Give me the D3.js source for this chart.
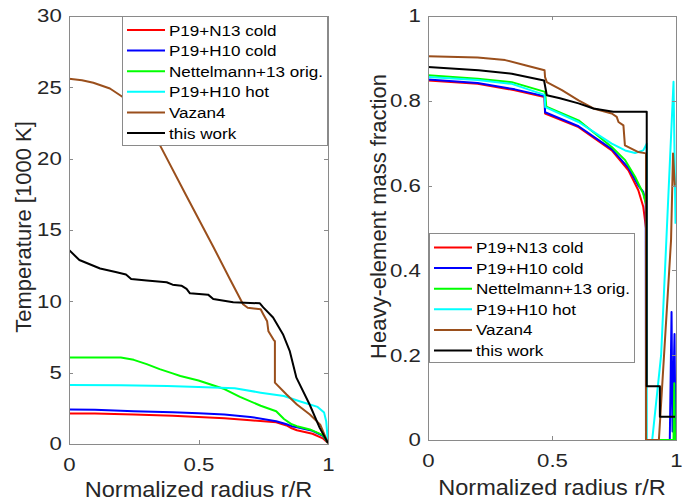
<!DOCTYPE html>
<html>
<head>
<meta charset="utf-8">
<script src="https://cdn.jsdelivr.net/npm/d3@7"></script>
<style>
  body { margin: 0; background: #fff; }
  svg { display: block; font-family: 'Liberation Sans', Arial, Helvetica, sans-serif; }
</style>
</head>
<body>
<svg id="chart" width="690" height="502"></svg>
<script>
const seriesNames = ['P19+N13 cold', 'P19+H10 cold', 'Nettelmann+13 orig.', 'P19+H10 hot', 'Vazan4', 'this work']
const seriesColors = ['#ff0000', '#0000ff', '#00ff00', '#00ffff', '#9a4f1c', '#000000']

// left panel: temperature [1000 K] against r/R, [r, T]
const tempN13Cold = [[0,2.14],[0.1,2.13],[0.25,2.07],[0.4,1.98],[0.5,1.9],[0.6,1.8],[0.7,1.66],[0.8,1.53],[0.84,1.3],[0.86,1.1],[0.88,0.96],[0.94,0.72],[0.98,0.4],[1,0.07]]
const tempH10Cold = [[0,2.42],[0.1,2.4],[0.25,2.3],[0.4,2.22],[0.5,2.15],[0.6,2.06],[0.7,1.9],[0.8,1.6],[0.84,1.38],[0.86,1.25],[0.88,1.17],[0.94,0.92],[0.98,0.58],[1,0.07]]
const tempN13Orig = [[0,6.06],[0.2,6.06],[0.25,5.9],[0.3,5.6],[0.35,5.25],[0.4,4.95],[0.43,4.77],[0.5,4.45],[0.55,4.15],[0.6,3.85],[0.66,3.3],[0.74,2.68],[0.8,2.3],[0.83,1.75],[0.86,1.38],[0.88,1.25],[0.93,1.02],[0.98,0.62],[1,0.07]]
const tempH10Hot = [[0,4.13],[0.2,4.12],[0.38,4.06],[0.5,4.0],[0.64,3.9],[0.74,3.6],[0.83,3.36],[0.89,3.0],[0.96,2.6],[0.985,2.2],[0.993,1.6],[1,0.1]]
const tempVazan4 = [[0,25.6],[0.05,25.5],[0.094,25.32],[0.158,24.92],[0.206,24.34],[0.245,23.7],[0.28,22.9],[0.315,22.0],[0.351,20.95],[0.45,17.5],[0.557,13.83],[0.62,11.6],[0.672,9.8],[0.69,9.55],[0.74,9.45],[0.75,9.1],[0.765,8.6],[0.77,7.9],[0.79,7.3],[0.795,7.2],[0.795,4.3],[0.84,3.47],[0.88,2.77],[0.93,2.07],[0.97,1.36],[1,0.07]]
const tempThisWork = [[0,13.6],[0.04,12.9],[0.12,12.3],[0.18,12.05],[0.22,11.88],[0.24,11.57],[0.3,11.46],[0.377,11.34],[0.4,11.17],[0.434,11.1],[0.454,10.87],[0.467,10.56],[0.537,10.47],[0.557,10.16],[0.634,9.93],[0.737,9.86],[0.75,9.58],[0.788,8.87],[0.826,7.7],[0.852,6.53],[0.878,4.65],[0.929,2.77],[0.968,1.13],[1,0.07]]

// right panel: heavy-element mass fraction against r/R, [r, Z]
const zN13Cold = [[0,0.848],[0.2,0.84],[0.35,0.825],[0.47,0.809],[0.472,0.77],[0.607,0.738],[0.741,0.683],[0.808,0.636],[0.848,0.589],[0.868,0.55],[0.879,0.5],[0.88,0],[1,0]]
const zH10Cold = [[0,0.85],[0.2,0.842],[0.35,0.827],[0.47,0.811],[0.472,0.773],[0.607,0.74],[0.741,0.686],[0.808,0.642],[0.848,0.6],[0.868,0.585],[0.878,0.56],[0.879,0],[0.975,0],[0.982,0.302],[0.986,0.02],[0.994,0.25],[0.998,0]]
const zN13Orig = [[0,0.86],[0.2,0.852],[0.338,0.844],[0.472,0.821],[0.477,0.786],[0.607,0.754],[0.741,0.691],[0.795,0.66],[0.835,0.621],[0.868,0.581],[0.879,0.556],[0.879,0],[0.99,0],[0.993,0.134],[0.996,0]]
const zH10Hot = [[0,0.856],[0.2,0.849],[0.338,0.84],[0.47,0.814],[0.473,0.785],[0.607,0.75],[0.741,0.699],[0.795,0.683],[0.835,0.677],[0.868,0.683],[0.882,0.699],[0.882,0],[0.904,0],[0.94,0.2],[0.961,0.47],[0.99,0.845],[0.998,0.51]]
const zVazan4 = [[0,0.905],[0.2,0.902],[0.311,0.896],[0.392,0.884],[0.47,0.872],[0.472,0.856],[0.479,0.844],[0.54,0.825],[0.607,0.801],[0.667,0.782],[0.741,0.77],[0.761,0.762],[0.768,0.75],[0.788,0.742],[0.794,0.695],[0.848,0.679],[0.879,0.676],[0.879,0],[0.931,0],[0.98,0.471],[0.988,0.676],[0.995,0.6]]
const zThisWork = [[0,0.88],[0.204,0.872],[0.338,0.864],[0.468,0.848],[0.479,0.813],[0.532,0.806],[0.607,0.794],[0.667,0.782],[0.747,0.774],[0.882,0.774],[0.882,0.127],[0.935,0.127],[0.935,0.055],[0.996,0.055]]

const xTicks = [0, 0.5, 1]
const tempTicks = [0, 5, 10, 15, 20, 25, 30]
const zTicks = [0, 0.2, 0.4, 0.6, 0.8, 1]

const axisColor = '#8a8a8a'
const textColor = '#262626'

const svg = d3.select('#chart')

// panels
const panels = [
  {
    id: 'left',
    x: d3.scaleLinear().domain([0, 1]).range([69, 328]),
    y: d3.scaleLinear().domain([0, 30]).range([444, 16]),
    yTicks: tempTicks,
    series: [tempN13Cold, tempH10Cold, tempN13Orig, tempH10Hot, tempVazan4, tempThisWork],
    xLabel: { text: 'Normalized radius r/R', x: 198.5, y: 497 },
    yLabel: { text: 'Temperature [1000 K]', x: 31, y: 227 },
    legend: { x: 122, y: 16 }
  },
  {
    id: 'right',
    x: d3.scaleLinear().domain([0, 1]).range([428, 676]),
    y: d3.scaleLinear().domain([0, 1]).range([440, 16]),
    yTicks: zTicks,
    series: [zN13Cold, zH10Cold, zN13Orig, zH10Hot, zVazan4, zThisWork],
    xLabel: { text: 'Normalized radius r/R', x: 552, y: 495 },
    yLabel: { text: 'Heavy-element mass fraction', x: 386, y: 216.5 },
    legend: { x: 429, y: 233.5 }
  }
]

const fmt = d3.format('~g')

panels.forEach(p => {
  const [x0, x1] = p.x.range()
  const [y0, y1] = p.y.range()
  const g = svg.append('g').attr('class', `panel-${p.id}`)

  g.append('clipPath').attr('id', `clip-${p.id}`)
    .append('rect')
    .attr('x', x0).attr('y', y1)
    .attr('width', x1 - x0).attr('height', y0 - y1)

  // lines
  const line = d3.line().x(d => p.x(d[0])).y(d => p.y(d[1]))
  g.append('g').attr('clip-path', `url(#clip-${p.id})`)
    .selectAll('path')
    .data(p.series)
    .join('path')
    .attr('d', line)
    .attr('fill', 'none')
    .attr('stroke', (d, i) => seriesColors[i])
    .attr('stroke-width', 2)
    .attr('stroke-linejoin', 'round')

  // box axes, ticks pointing inward
  const styleAxis = sel => sel
    .call(s => s.select('.domain').attr('stroke', axisColor).attr('shape-rendering', 'crispEdges'))
    .call(s => s.selectAll('.tick line').attr('stroke', axisColor).attr('shape-rendering', 'crispEdges'))
    .call(s => s.selectAll('.tick text')
      .attr('fill', textColor)
      .attr('font-size', 18.5)
      .attr('transform', 'scale(1.2,1)'))

  g.append('g').attr('transform', `translate(0,${y0})`)
    .call(d3.axisBottom(p.x).tickValues(xTicks).tickFormat(fmt).tickSizeInner(-4).tickSizeOuter(0).tickPadding(14))
    .call(styleAxis)
  g.append('g').attr('transform', `translate(0,${y1})`)
    .call(d3.axisTop(p.x).tickValues(xTicks).tickFormat('').tickSizeInner(-4).tickSizeOuter(0))
    .call(styleAxis)
  g.append('g').attr('transform', `translate(${x0},0)`)
    .call(d3.axisLeft(p.y).tickValues(p.yTicks).tickFormat(fmt).tickSizeInner(-4).tickSizeOuter(0).tickPadding(6))
    .call(styleAxis)
  g.append('g').attr('transform', `translate(${x1},0)`)
    .call(d3.axisRight(p.y).tickValues(p.yTicks).tickFormat('').tickSizeInner(-4).tickSizeOuter(0))
    .call(styleAxis)

  // axis titles
  g.append('text')
    .attr('transform', `translate(${p.xLabel.x},${p.xLabel.y}) scale(1.07,1)`)
    .attr('text-anchor', 'middle')
    .attr('font-size', 22)
    .attr('fill', textColor)
    .text(p.xLabel.text)
  g.append('text')
    .attr('transform', `translate(${p.yLabel.x},${p.yLabel.y}) rotate(-90)`)
    .attr('text-anchor', 'middle')
    .attr('font-size', 22)
    .attr('fill', textColor)
    .text(p.yLabel.text)

  // legend
  const lg = g.append('g').attr('transform', `translate(${p.legend.x},${p.legend.y})`)
  lg.append('rect')
    .attr('width', 205).attr('height', 129)
    .attr('fill', '#fff')
    .attr('stroke', axisColor)
    .attr('shape-rendering', 'crispEdges')
  const item = lg.selectAll('.item')
    .data(seriesNames)
    .join('g')
    .attr('class', 'item')
    .attr('transform', (d, i) => `translate(0,${14 + i * 20.6})`)
  item.append('line')
    .attr('x1', 5).attr('x2', 43)
    .attr('stroke', (d, i) => seriesColors[i])
    .attr('stroke-width', 2)
  item.append('text')
    .attr('transform', 'translate(47,0) scale(1.1,1)')
    .attr('dy', '0.36em')
    .attr('font-size', 15.5)
    .attr('fill', '#000')
    .text(d => d)
})
</script>
</body>
</html>
